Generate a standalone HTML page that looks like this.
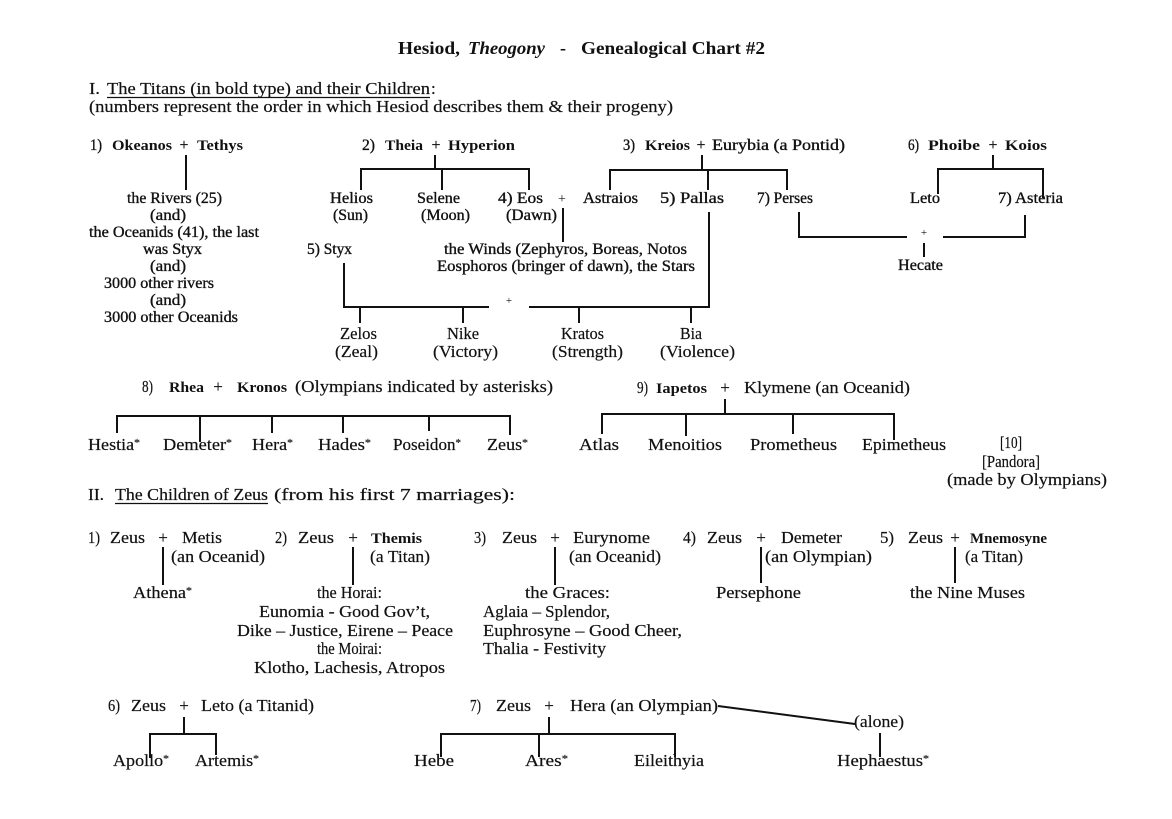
<!DOCTYPE html>
<html>
<head>
<meta charset="utf-8">
<style>
html,body{margin:0;padding:0;background:#fff;}
svg{display:block;}
text{font-family:"Liberation Serif",serif;fill:#111;}
.t{font-size:18px;font-weight:bold;}
.r{font-size:17px;stroke:#111;stroke-width:0.2px;}
.d{font-size:15.5px;stroke:#111;stroke-width:0.35px;}
.b{font-size:15px;font-weight:bold;}
.p{font-size:14px;}
.s{font-size:11px;}
line,polyline{stroke:#111;stroke-width:2;fill:none;}
</style>
</head>
<body>
<svg width="1172" height="819" viewBox="0 0 1172 819" xmlns="http://www.w3.org/2000/svg">
<rect width="1172" height="819" fill="#fff"/>

<!-- Title -->
<text class="t" x="398" y="54" textLength="62" lengthAdjust="spacingAndGlyphs">Hesiod,</text>
<text class="t" x="468" y="54" textLength="77" lengthAdjust="spacingAndGlyphs" font-style="italic">Theogony</text>
<text class="t" x="560" y="54">-</text>
<text class="t" x="581" y="54" textLength="184" lengthAdjust="spacingAndGlyphs">Genealogical Chart #2</text>

<!-- Section I header -->
<text class="r" x="89" y="94" textLength="11" lengthAdjust="spacingAndGlyphs">I.</text>
<text class="r" x="107" y="94" textLength="323" lengthAdjust="spacingAndGlyphs">The Titans (in bold type) and their Children</text>
<text class="r" x="431" y="94">:</text>
<line x1="107" y1="97.5" x2="430" y2="97.5" style="stroke-width:1.3"/>
<text class="r" x="89" y="112" textLength="584" lengthAdjust="spacingAndGlyphs">(numbers represent the order in which Hesiod describes them &amp; their progeny)</text>

<!-- Row 1 parents -->
<text class="d" x="90" y="150" textLength="12" lengthAdjust="spacingAndGlyphs">1)</text>
<text class="b" x="112" y="150" textLength="60" lengthAdjust="spacingAndGlyphs">Okeanos</text>
<text class="d" x="184" y="150" text-anchor="middle">+</text>
<text class="b" x="197" y="150" textLength="46" lengthAdjust="spacingAndGlyphs">Tethys</text>

<text class="d" x="362" y="150" textLength="13" lengthAdjust="spacingAndGlyphs">2)</text>
<text class="b" x="385" y="150" textLength="38" lengthAdjust="spacingAndGlyphs">Theia</text>
<text class="d" x="436" y="150" text-anchor="middle">+</text>
<text class="b" x="448" y="150" textLength="67" lengthAdjust="spacingAndGlyphs">Hyperion</text>

<text class="d" x="623" y="150" textLength="12" lengthAdjust="spacingAndGlyphs">3)</text>
<text class="b" x="645" y="150" textLength="45" lengthAdjust="spacingAndGlyphs">Kreios</text>
<text class="d" x="701" y="150" text-anchor="middle">+</text>
<text class="d" x="712" y="150" textLength="133" lengthAdjust="spacingAndGlyphs">Eurybia (a Pontid)</text>

<text class="d" x="908" y="150" textLength="11" lengthAdjust="spacingAndGlyphs">6)</text>
<text class="b" x="928" y="150" textLength="52" lengthAdjust="spacingAndGlyphs">Phoibe</text>
<text class="d" x="993" y="150" text-anchor="middle">+</text>
<text class="b" x="1005" y="150" textLength="42" lengthAdjust="spacingAndGlyphs">Koios</text>

<!-- Okeanos children -->
<line x1="186" y1="155" x2="186" y2="190"/>
<text class="d" x="127" y="203" textLength="95" lengthAdjust="spacingAndGlyphs">the Rivers (25)</text>
<text class="d" x="150" y="220" textLength="36" lengthAdjust="spacingAndGlyphs">(and)</text>
<text class="d" x="89" y="237" textLength="170" lengthAdjust="spacingAndGlyphs">the Oceanids (41), the last</text>
<text class="d" x="143" y="254" textLength="59" lengthAdjust="spacingAndGlyphs">was Styx</text>
<text class="d" x="150" y="271" textLength="36" lengthAdjust="spacingAndGlyphs">(and)</text>
<text class="d" x="104" y="288" textLength="110" lengthAdjust="spacingAndGlyphs">3000 other rivers</text>
<text class="d" x="150" y="305" textLength="36" lengthAdjust="spacingAndGlyphs">(and)</text>
<text class="d" x="104" y="322" textLength="134" lengthAdjust="spacingAndGlyphs">3000 other Oceanids</text>

<!-- Theia + Hyperion -->
<line x1="435" y1="155" x2="435" y2="169"/>
<polyline points="361,190 361,169 529,169 529,190"/>
<line x1="442" y1="169" x2="442" y2="190"/>
<text class="d" x="330" y="203" textLength="43" lengthAdjust="spacingAndGlyphs">Helios</text>
<text class="d" x="333" y="220" textLength="35" lengthAdjust="spacingAndGlyphs">(Sun)</text>
<text class="d" x="417" y="203" textLength="43" lengthAdjust="spacingAndGlyphs">Selene</text>
<text class="d" x="421" y="220" textLength="49" lengthAdjust="spacingAndGlyphs">(Moon)</text>
<text class="d" x="498" y="203" textLength="45" lengthAdjust="spacingAndGlyphs">4) Eos</text>
<text class="d" x="506" y="220" textLength="51" lengthAdjust="spacingAndGlyphs">(Dawn)</text>
<text class="p" x="562" y="203" text-anchor="middle">+</text>
<line x1="563" y1="208" x2="563" y2="242"/>
<text class="d" x="444" y="254" textLength="243" lengthAdjust="spacingAndGlyphs">the Winds (Zephyros, Boreas, Notos</text>
<text class="d" x="437" y="271" textLength="258" lengthAdjust="spacingAndGlyphs">Eosphoros (bringer of dawn), the Stars</text>

<!-- Kreios + Eurybia -->
<line x1="702" y1="155" x2="702" y2="170"/>
<polyline points="610,190 610,170 787,170 787,190"/>
<line x1="708" y1="170" x2="708" y2="190"/>
<text class="d" x="583" y="203" textLength="55" lengthAdjust="spacingAndGlyphs">Astraios</text>
<text class="d" x="660" y="203" textLength="64" lengthAdjust="spacingAndGlyphs">5) Pallas</text>
<text class="d" x="757" y="203" textLength="56" lengthAdjust="spacingAndGlyphs">7) Perses</text>

<!-- Phoibe + Koios -->
<line x1="993" y1="155" x2="993" y2="169"/>
<polyline points="938,194 938,169 1043,169 1043,198"/>
<text class="d" x="910" y="203" textLength="30" lengthAdjust="spacingAndGlyphs">Leto</text>
<text class="d" x="998" y="203" textLength="65" lengthAdjust="spacingAndGlyphs">7) Asteria</text>

<!-- Perses + Asteria -> Hecate -->
<polyline points="799,212 799,237 907,237"/>
<polyline points="943,237 1025,237 1025,215"/>
<text class="s" x="924" y="236" text-anchor="middle">+</text>
<line x1="924" y1="243" x2="924" y2="257"/>
<text class="d" x="898" y="270" textLength="45" lengthAdjust="spacingAndGlyphs">Hecate</text>

<!-- Styx + Pallas -->
<text class="d" x="307" y="254" textLength="45" lengthAdjust="spacingAndGlyphs">5) Styx</text>
<polyline points="344,263 344,307 489,307"/>
<text class="s" x="509" y="304" text-anchor="middle">+</text>
<polyline points="529,307 709,307 709,212"/>
<line x1="360" y1="307" x2="360" y2="323"/>
<line x1="463" y1="307" x2="463" y2="323"/>
<line x1="579" y1="307" x2="579" y2="323"/>
<line x1="691" y1="307" x2="691" y2="323"/>
<text class="r" x="340" y="339" textLength="37" lengthAdjust="spacingAndGlyphs">Zelos</text>
<text class="r" x="335" y="357" textLength="43" lengthAdjust="spacingAndGlyphs">(Zeal)</text>
<text class="r" x="447" y="339" textLength="32" lengthAdjust="spacingAndGlyphs">Nike</text>
<text class="r" x="433" y="357" textLength="65" lengthAdjust="spacingAndGlyphs">(Victory)</text>
<text class="r" x="561" y="339" textLength="43" lengthAdjust="spacingAndGlyphs">Kratos</text>
<text class="r" x="552" y="357" textLength="71" lengthAdjust="spacingAndGlyphs">(Strength)</text>
<text class="r" x="680" y="339" textLength="22" lengthAdjust="spacingAndGlyphs">Bia</text>
<text class="r" x="660" y="357" textLength="75" lengthAdjust="spacingAndGlyphs">(Violence)</text>

<!-- 8) Rhea + Kronos -->
<text class="r" x="142" y="392" textLength="11" lengthAdjust="spacingAndGlyphs">8)</text>
<text class="b" x="169" y="392" textLength="35" lengthAdjust="spacingAndGlyphs">Rhea</text>
<text class="r" x="218" y="392" text-anchor="middle">+</text>
<text class="b" x="237" y="392" textLength="50" lengthAdjust="spacingAndGlyphs">Kronos</text>
<text class="r" x="295" y="392" textLength="258" lengthAdjust="spacingAndGlyphs">(Olympians indicated by asterisks)</text>
<polyline points="117,433 117,416 510,416 510,435"/>
<line x1="200" y1="416" x2="200" y2="442"/>
<line x1="272" y1="416" x2="272" y2="433"/>
<line x1="343" y1="416" x2="343" y2="433"/>
<line x1="429" y1="416" x2="429" y2="431"/>
<text class="r" x="88" y="450" textLength="52" lengthAdjust="spacingAndGlyphs">Hestia<tspan class="s" dy="-4">*</tspan></text>
<text class="r" x="163" y="450" textLength="69" lengthAdjust="spacingAndGlyphs">Demeter<tspan class="s" dy="-4">*</tspan></text>
<text class="r" x="252" y="450" textLength="41" lengthAdjust="spacingAndGlyphs">Hera<tspan class="s" dy="-4">*</tspan></text>
<text class="r" x="318" y="450" textLength="53" lengthAdjust="spacingAndGlyphs">Hades<tspan class="s" dy="-4">*</tspan></text>
<text class="r" x="393" y="450" textLength="68" lengthAdjust="spacingAndGlyphs">Poseidon<tspan class="s" dy="-4">*</tspan></text>
<text class="r" x="487" y="450" textLength="41" lengthAdjust="spacingAndGlyphs">Zeus<tspan class="s" dy="-4">*</tspan></text>

<!-- 9) Iapetos + Klymene -->
<text class="r" x="637" y="393" textLength="11" lengthAdjust="spacingAndGlyphs">9)</text>
<text class="b" x="656" y="393" textLength="51" lengthAdjust="spacingAndGlyphs">Iapetos</text>
<text class="r" x="725" y="393" text-anchor="middle">+</text>
<text class="r" x="744" y="393" textLength="166" lengthAdjust="spacingAndGlyphs">Klymene (an Oceanid)</text>
<line x1="725" y1="399" x2="725" y2="414"/>
<polyline points="602,434 602,414 894,414 894,440"/>
<line x1="686" y1="414" x2="686" y2="436"/>
<line x1="793" y1="414" x2="793" y2="434"/>
<text class="r" x="579" y="450" textLength="40" lengthAdjust="spacingAndGlyphs">Atlas</text>
<text class="r" x="648" y="450" textLength="74" lengthAdjust="spacingAndGlyphs">Menoitios</text>
<text class="r" x="750" y="450" textLength="87" lengthAdjust="spacingAndGlyphs">Prometheus</text>
<text class="r" x="862" y="450" textLength="84" lengthAdjust="spacingAndGlyphs">Epimetheus</text>
<text class="r" x="1000" y="448" textLength="22" lengthAdjust="spacingAndGlyphs">[10]</text>
<text class="r" x="982" y="467" textLength="58" lengthAdjust="spacingAndGlyphs">[Pandora]</text>
<text class="r" x="947" y="485" textLength="160" lengthAdjust="spacingAndGlyphs">(made by Olympians)</text>

<!-- Section II header -->
<text class="r" x="88" y="500" textLength="16" lengthAdjust="spacingAndGlyphs">II.</text>
<text class="r" x="115" y="500" textLength="153" lengthAdjust="spacingAndGlyphs">The Children of Zeus</text>
<line x1="115" y1="503.5" x2="268" y2="503.5" style="stroke-width:1.3"/>
<text class="r" x="274" y="500" textLength="241" lengthAdjust="spacingAndGlyphs">(from his first 7 marriages):</text>

<!-- II.1 Zeus + Metis -->
<text class="r" x="88" y="543" textLength="12" lengthAdjust="spacingAndGlyphs">1)</text>
<text class="r" x="110" y="543" textLength="35" lengthAdjust="spacingAndGlyphs">Zeus</text>
<text class="r" x="163" y="543" text-anchor="middle">+</text>
<text class="r" x="182" y="543" textLength="40" lengthAdjust="spacingAndGlyphs">Metis</text>
<text class="r" x="171" y="562" textLength="94" lengthAdjust="spacingAndGlyphs">(an Oceanid)</text>
<line x1="163" y1="547" x2="163" y2="585"/>
<text class="r" x="133" y="598" textLength="59" lengthAdjust="spacingAndGlyphs">Athena<tspan class="s" dy="-4">*</tspan></text>

<!-- II.2 Zeus + Themis -->
<text class="r" x="275" y="543" textLength="12" lengthAdjust="spacingAndGlyphs">2)</text>
<text class="r" x="298" y="543" textLength="36" lengthAdjust="spacingAndGlyphs">Zeus</text>
<text class="r" x="353" y="543" text-anchor="middle">+</text>
<text class="b" x="371" y="543" textLength="51" lengthAdjust="spacingAndGlyphs">Themis</text>
<text class="r" x="370" y="562" textLength="60" lengthAdjust="spacingAndGlyphs">(a Titan)</text>
<line x1="353" y1="547" x2="353" y2="585"/>
<text class="r" x="317" y="598" textLength="65" lengthAdjust="spacingAndGlyphs">the Horai:</text>
<text class="r" x="259" y="617" textLength="171" lengthAdjust="spacingAndGlyphs">Eunomia - Good Gov’t,</text>
<text class="r" x="237" y="636" textLength="216" lengthAdjust="spacingAndGlyphs">Dike – Justice, Eirene – Peace</text>
<text class="r" x="317" y="654" textLength="65" lengthAdjust="spacingAndGlyphs">the Moirai:</text>
<text class="r" x="254" y="673" textLength="191" lengthAdjust="spacingAndGlyphs">Klotho, Lachesis, Atropos</text>

<!-- II.3 Zeus + Eurynome -->
<text class="r" x="474" y="543" textLength="12" lengthAdjust="spacingAndGlyphs">3)</text>
<text class="r" x="502" y="543" textLength="35" lengthAdjust="spacingAndGlyphs">Zeus</text>
<text class="r" x="555" y="543" text-anchor="middle">+</text>
<text class="r" x="573" y="543" textLength="77" lengthAdjust="spacingAndGlyphs">Eurynome</text>
<text class="r" x="569" y="562" textLength="92" lengthAdjust="spacingAndGlyphs">(an Oceanid)</text>
<line x1="555" y1="547" x2="555" y2="585"/>
<text class="r" x="525" y="598" textLength="85" lengthAdjust="spacingAndGlyphs">the Graces:</text>
<text class="r" x="483" y="617" textLength="127" lengthAdjust="spacingAndGlyphs">Aglaia – Splendor,</text>
<text class="r" x="483" y="636" textLength="199" lengthAdjust="spacingAndGlyphs">Euphrosyne – Good Cheer,</text>
<text class="r" x="483" y="654" textLength="123" lengthAdjust="spacingAndGlyphs">Thalia - Festivity</text>

<!-- II.4 Zeus + Demeter -->
<text class="r" x="683" y="543" textLength="13" lengthAdjust="spacingAndGlyphs">4)</text>
<text class="r" x="707" y="543" textLength="35" lengthAdjust="spacingAndGlyphs">Zeus</text>
<text class="r" x="761" y="543" text-anchor="middle">+</text>
<text class="r" x="781" y="543" textLength="61" lengthAdjust="spacingAndGlyphs">Demeter</text>
<text class="r" x="765" y="562" textLength="107" lengthAdjust="spacingAndGlyphs">(an Olympian)</text>
<line x1="761" y1="547" x2="761" y2="583"/>
<text class="r" x="716" y="598" textLength="85" lengthAdjust="spacingAndGlyphs">Persephone</text>

<!-- II.5 Zeus + Mnemosyne -->
<text class="r" x="880" y="543" textLength="14" lengthAdjust="spacingAndGlyphs">5)</text>
<text class="r" x="908" y="543" textLength="35" lengthAdjust="spacingAndGlyphs">Zeus</text>
<text class="r" x="955" y="543" text-anchor="middle">+</text>
<text class="b" x="970" y="543" textLength="77" lengthAdjust="spacingAndGlyphs">Mnemosyne</text>
<text class="r" x="965" y="562" textLength="58" lengthAdjust="spacingAndGlyphs">(a Titan)</text>
<line x1="955" y1="547" x2="955" y2="583"/>
<text class="r" x="910" y="598" textLength="115" lengthAdjust="spacingAndGlyphs">the Nine Muses</text>

<!-- II.6 Zeus + Leto -->
<text class="r" x="108" y="711" textLength="12" lengthAdjust="spacingAndGlyphs">6)</text>
<text class="r" x="131" y="711" textLength="35" lengthAdjust="spacingAndGlyphs">Zeus</text>
<text class="r" x="184" y="711" text-anchor="middle">+</text>
<text class="r" x="201" y="711" textLength="113" lengthAdjust="spacingAndGlyphs">Leto (a Titanid)</text>
<line x1="184" y1="717" x2="184" y2="734"/>
<polyline points="150,758 150,734 216,734 216,755"/>
<text class="r" x="113" y="766" textLength="56" lengthAdjust="spacingAndGlyphs">Apollo<tspan class="s" dy="-4">*</tspan></text>
<text class="r" x="195" y="766" textLength="64" lengthAdjust="spacingAndGlyphs">Artemis<tspan class="s" dy="-4">*</tspan></text>

<!-- II.7 Zeus + Hera -->
<text class="r" x="470" y="711" textLength="11" lengthAdjust="spacingAndGlyphs">7)</text>
<text class="r" x="496" y="711" textLength="35" lengthAdjust="spacingAndGlyphs">Zeus</text>
<text class="r" x="549" y="711" text-anchor="middle">+</text>
<text class="r" x="570" y="711" textLength="148" lengthAdjust="spacingAndGlyphs">Hera (an Olympian)</text>
<line x1="549" y1="717" x2="549" y2="734"/>
<polyline points="441,757 441,734 675,734 675,757"/>
<line x1="539" y1="734" x2="539" y2="757"/>
<line x1="718" y1="706" x2="855" y2="724"/>
<text class="r" x="854" y="727" textLength="50" lengthAdjust="spacingAndGlyphs">(alone)</text>
<line x1="880" y1="733" x2="880" y2="757"/>
<text class="r" x="414" y="766" textLength="40" lengthAdjust="spacingAndGlyphs">Hebe</text>
<text class="r" x="525" y="766" textLength="43" lengthAdjust="spacingAndGlyphs">Ares<tspan class="s" dy="-4">*</tspan></text>
<text class="r" x="634" y="766" textLength="70" lengthAdjust="spacingAndGlyphs">Eileithyia</text>
<text class="r" x="837" y="766" textLength="92" lengthAdjust="spacingAndGlyphs">Hephaestus<tspan class="s" dy="-4">*</tspan></text>

</svg>
</body>
</html>
